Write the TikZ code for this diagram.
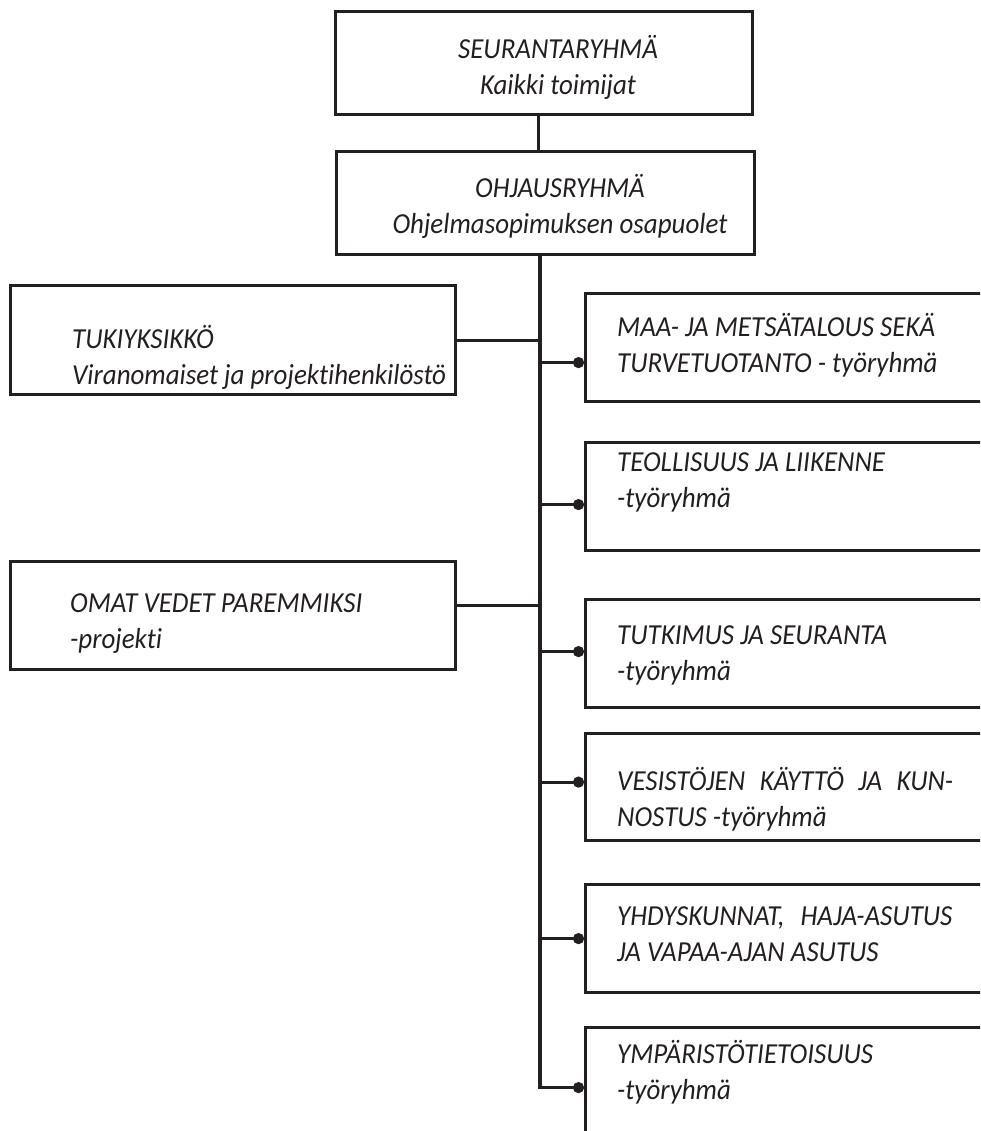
\documentclass[tikz,border=0pt]{standalone}
\usepackage{fontspec}
\setmainfont{Carlito}[Ligatures=NoCommon, FakeStretch=0.93]
\usetikzlibrary{arrows.meta}
\definecolor{linecol}{RGB}{35, 31, 32}

\begin{document}
\begin{tikzpicture}[
    x=1pt, y=-1pt,
    font=\itshape\fontsize{29}{36}\selectfont,
    wire/.style={draw=linecol, line width=3.2pt},
    dotwire/.style={wire, -{Circle[length=11pt, width=11pt]}},
    box/.style={draw=linecol, line width=3.2pt, anchor=north west, inner sep=0pt},
    topbox/.style={box, minimum width=417pt, minimum height=103pt},
    leftbox/.style={box, minimum width=445pt, minimum height=108pt},
    groupbox/.style={box, minimum width=420pt, minimum height=108pt},
    boxtext/.style={text=linecol, align=left, anchor=west, inner sep=0pt},
    toptext/.style={text=linecol, align=center, inner sep=0pt}
]
\useasboundingbox (0,0) rectangle (980,1131);
\clip (0,0) rectangle (980,1131);

% Top of the organisation
\node[topbox] (seur) at (334,10) {};
\node[topbox, minimum width=418pt] (ohj) at (335,150) {};
\node[toptext] (seurtxt) at (558,67) {SEURANTARYHMÄ\\Kaikki toimijat};
\node[toptext] (ohjtxt)  at (560,206) {OHJAUSRYHMÄ\\Ohjelmasopimuksen osapuolet};

% Left side
\node[leftbox, minimum height=109pt] (tuki) at (9,284) {};
\node[leftbox] (omat) at (9,560) {};
\node[boxtext] (tukitxt) at (72,357) {TUKIYKSIKKÖ\\Viranomaiset ja projektihenkilöstö};
\node[boxtext] (omattxt) at (70,624) {OMAT VEDET PAREMMIKSI\\-projekti};

% Working groups
\node[groupbox] (maa)   at (584,292) {};
\node[groupbox] (teol)  at (584,441) {};
\node[groupbox] (tutk)  at (584,598) {};
\node[groupbox, minimum height=107pt] (vesi) at (584,732) {};
\node[groupbox] (yhdys) at (584,883) {};
\node[groupbox, minimum height=120pt] (ymp) at (584,1026) {};

\node[boxtext] (maatxt)   at (617,345) {MAA- JA METSÄTALOUS SEKÄ\\TURVETUOTANTO - työryhmä};
\node[boxtext] (teoltxt)  at (617,482) {TEOLLISUUS JA LIIKENNE\\-työryhmä};
\node[boxtext] (tutktxt)  at (617,655) {TUTKIMUS JA SEURANTA\\-työryhmä};
\node[boxtext] (vesitxt)  at (617,799) {\makebox[336pt][s]{VESISTÖJEN KÄYTTÖ JA KUN-}\\NOSTUS -työryhmä};
\node[boxtext] (yhdystxt) at (617,934) {YHDYSKUNNAT,\hspace{16pt}HAJA-ASUTUS\\JA VAPAA-AJAN ASUTUS};
\node[boxtext] (ymptxt)   at (617,1072) {YMPÄRISTÖTIETOISUUS\\-työryhmä};

% Main line
\coordinate (bus) at (540,253);
\coordinate (maadot)   at ([yshift=-15pt]maa.west);
\coordinate (teoldot)  at ([yshift=-8pt]teol.west);
\coordinate (tutkdot)  at ([yshift=2pt]tutk.west);
\coordinate (vesidot)  at ([yshift=5pt]vesi.west);
\coordinate (yhdysdot) at (yhdys.west);
\coordinate (ympdot)   at (ymp.west);
\coordinate (omatend)  at ([yshift=10pt]omat.east);

\draw[wire] ([xshift=-6pt]seur.south) -- ([xshift=-6pt]seur.south |- ohj.north);
\draw[wire] (bus |- ohj.south) -- (bus |- ympdot) -- ([xshift=-11pt]ympdot);
\draw[dotwire] (bus |- ympdot) -- (ympdot);

% Branches
\draw[wire] (tuki.east) -- (tuki.east -| bus);
\draw[wire] (omatend) -- (omatend -| bus);
\draw[dotwire] (bus |- maadot) -- (maadot);
\draw[dotwire] (bus |- teoldot) -- (teoldot);
\draw[dotwire] (bus |- tutkdot) -- (tutkdot);
\draw[dotwire] (bus |- vesidot) -- (vesidot);
\draw[dotwire] (bus |- yhdysdot) -- (yhdysdot);

\end{tikzpicture}
\end{document}
